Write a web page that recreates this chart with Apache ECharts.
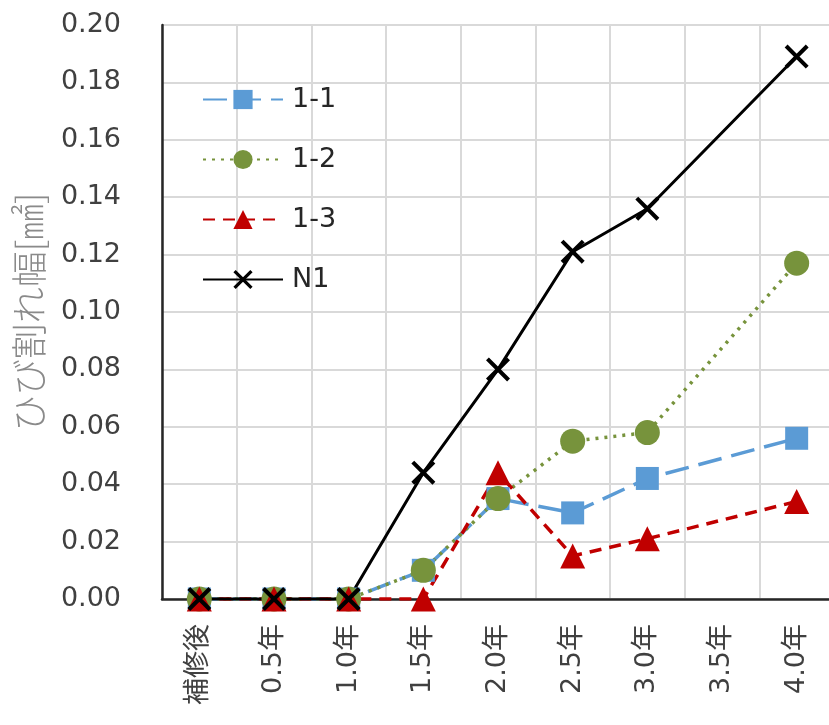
<!DOCTYPE html>
<html><head><meta charset="utf-8">
<script src="https://cdn.jsdelivr.net/npm/echarts@6/dist/echarts.min.js"></script>
<style>html,body{margin:0;padding:0;background:#fff}#c{width:829px;height:725px}</style>
</head><body><div id="c"></div>
<script>
const categories = ['補修後','0.5年','1.0年','1.5年','2.0年','2.5年','3.0年','3.5年','4.0年'];
const s11 = [0,0,0,0.010,0.035,0.030,0.042,null,0.056];
const s12 = [0,0,0,0.010,0.035,0.055,0.058,null,0.117];
const s13 = [0,0,0,0.000,0.044,0.015,0.021,null,0.034];
const n1  = [0,0,0,0.044,0.080,0.121,0.136,null,0.189];

const font = '"DejaVu Sans", "Noto Sans CJK JP", sans-serif';
const xPath = 'path://M0,1.2L1.2,0L10,8.8L8.8,10Z M8.8,0L10,1.2L1.2,10L0,8.8Z';
const chart = echarts.init(document.getElementById('c'));
chart.setOption({
  animation:false,
  grid:{left:162, top:25, right:-5, bottom:126, outerBoundsMode:'none', containLabel:false},
  legend:{
    orient:'vertical', left:197, top:81, itemWidth:80, itemHeight:24, itemGap:33,
    textStyle:{fontSize:27, color:'#262626', fontFamily:font, padding:[0,0,0,4]},
    data:['1-1','1-2','1-3','N1']
  },
  xAxis:{
    type:'category', data:categories, boundaryGap:true,
    axisLine:{lineStyle:{color:'#262626', width:2.5}},
    axisTick:{show:false},
    splitLine:{show:true, interval:0, lineStyle:{color:'#d9d9d9', width:2}},
    axisLabel:{rotate:90, interval:0, margin:25, fontSize:27, color:'#404040', fontFamily:font}
  },
  yAxis:{
    type:'value', min:0, max:0.2, interval:0.02,
    name:'ひび割れ幅[㎟]', nameLocation:'middle', nameGap:115, nameRotate:90,
    nameTextStyle:{fontSize:36, color:'#8a8a8a', fontFamily:'"Noto Sans CJK JP", sans-serif', fontWeight:300},
    axisLine:{show:true, lineStyle:{color:'#262626', width:2.5}},
    axisTick:{show:false},
    splitLine:{lineStyle:{color:'#d9d9d9', width:2}},
    axisLabel:{margin:41, fontSize:27, color:'#404040', fontFamily:font,
      formatter:v=>v.toFixed(2)}
  },
  series:[
    {name:'1-1', type:'line', data:s11, connectNulls:true, symbol:'rect', symbolSize:23,
     itemStyle:{color:'#5B9BD5'}, lineStyle:{color:'#5B9BD5', width:3.5, type:[24,10]}},
    {name:'1-2', type:'line', data:s12, connectNulls:true, symbol:'circle', symbolSize:25,
     itemStyle:{color:'#77933C'}, lineStyle:{color:'#77933C', width:3.5, type:[3,6]}},
    {name:'1-3', type:'line', data:s13, connectNulls:true, symbol:'triangle', symbolSize:25,
     itemStyle:{color:'#C00000'}, lineStyle:{color:'#C00000', width:3.5, type:[12,8]}},
    {name:'N1', type:'line', data:n1, connectNulls:true, symbol:xPath, symbolSize:24,
     itemStyle:{color:'#000000'}, lineStyle:{color:'#000000', width:3}}
  ]
});
</script></body></html>
